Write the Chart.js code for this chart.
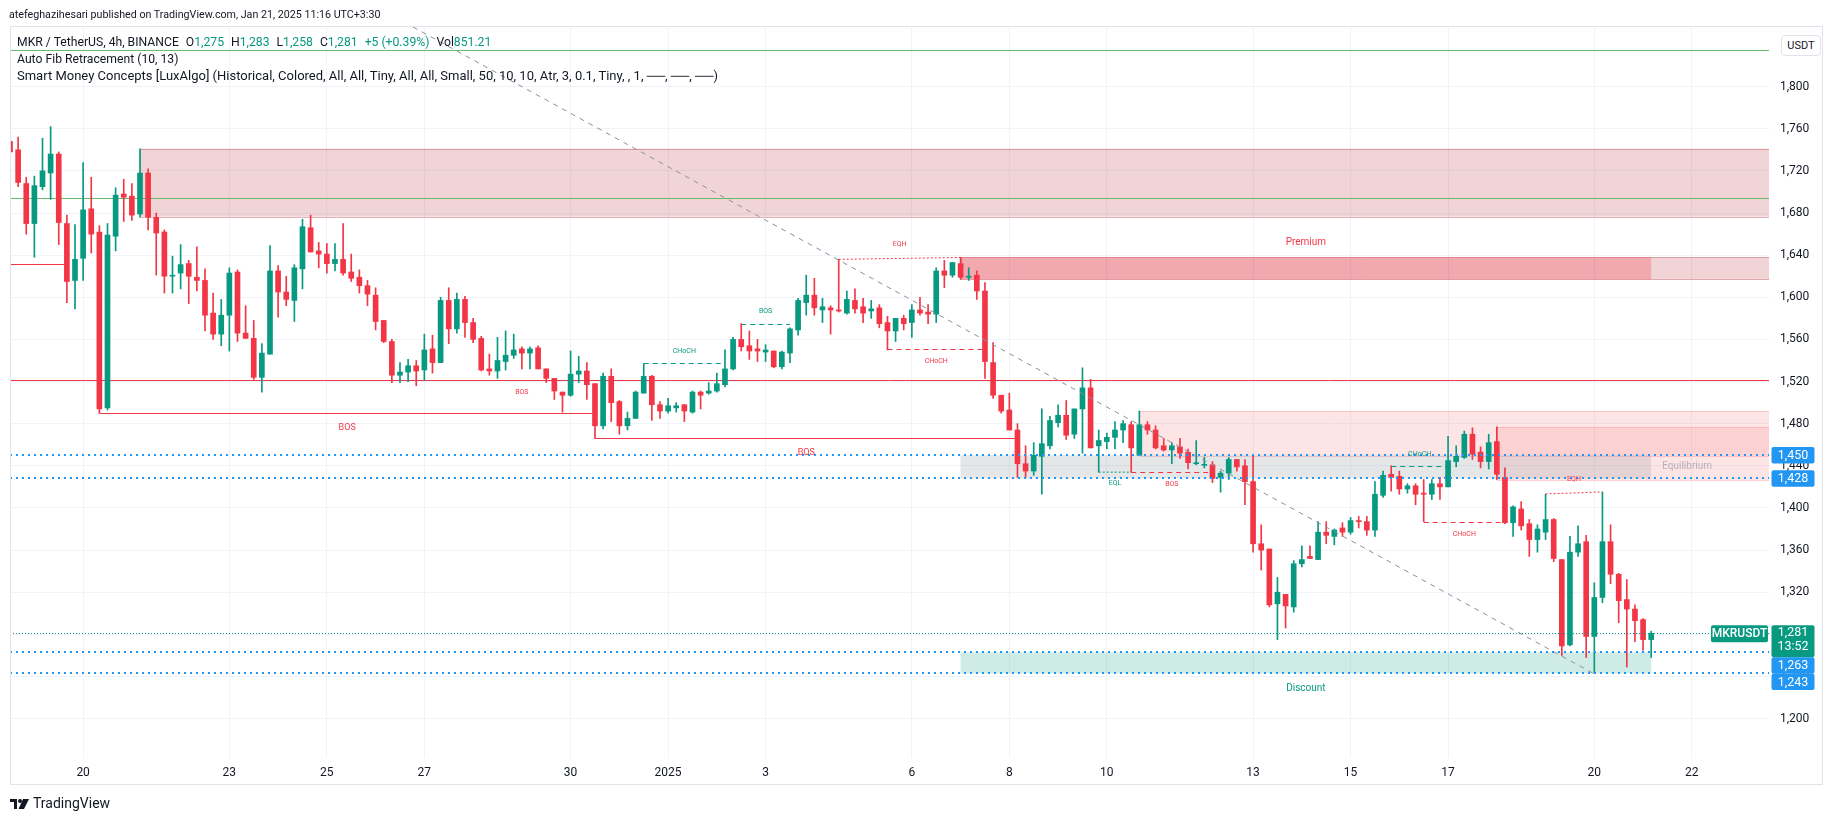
<!DOCTYPE html>
<html>
<head>
<meta charset="utf-8">
<title>MKR / TetherUS 4h</title>
<script src="https://cdn.jsdelivr.net/npm/chart.js@4.4.1/dist/chart.umd.min.js"></script>
<style>
  html, body { margin: 0; padding: 0; background: #fff; }
  #wrap { position: relative; width: 1835px; height: 821px; font-family: Roboto, "Noto Sans", sans-serif; color: #131722; }
  #chart { position: absolute; left: 0; top: 0; }
  .txt { position: absolute; white-space: nowrap; font-size: 12.2px; line-height: 15px; }
  .g { color: #089981; }
  .it { margin-left: 7px; }
  #frame { position: absolute; left: 10px; top: 26px; width: 1811px; height: 757px; border: 1px solid #e0e3eb; pointer-events: none; }
  #unit { position: absolute; left: 1781px; top: 35px; width: 38px; height: 19px; border: 1px solid #e0e3eb; border-radius: 4px;
          background: #fff; font-size: 11px; line-height: 19px; text-align: center; }
  #logo { position: absolute; left: 10px; top: 795px; font-size: 14px; line-height: 17px; white-space: nowrap; }
  #logo svg { vertical-align: -1px; margin-right: 4px; }
</style>
</head>
<body>
<div id="wrap">
  <canvas id="chart" width="1835" height="821"></canvas>
  <div id="frame"></div>
  <div class="txt" style="left:9px; top:8px; font-size:10.7px; line-height:14px;">atefeghazihesari published on TradingView.com, Jan 21, 2025 11:16 UTC+3:30</div>
  <div class="txt" style="left:17px; top:34.5px;">MKR / TetherUS, 4h, BINANCE<span class="it">O<span class="g">1,275</span></span><span class="it">H<span class="g">1,283</span></span><span class="it">L<span class="g">1,258</span></span><span class="it">C<span class="g">1,281</span></span><span class="it g">+5 (+0.39%)</span><span class="it">Vol<span class="g">851.21</span></span></div>
  <div class="txt" style="left:17px; top:51.5px;">Auto Fib Retracement (10, 13)</div>
  <div class="txt" style="left:17px; top:67.5px; font-size:13px;">Smart Money Concepts [LuxAlgo] (Historical, Colored, All, All, Tiny, All, All, Small, 50, 10, 10, Atr, 3, 0.1, Tiny, , 1, ──, ──, ──)</div>
  <div id="unit">USDT</div>
  <div id="logo"><svg width="19" height="10" viewBox="0 0 19 10"><path d="M0 0h7v10H4V3H0z" fill="#131722"/><circle cx="10" cy="2" r="2" fill="#131722"/><path d="M13 0h6l-5 10H8.5z" fill="#131722"/></svg>TradingView</div>
</div>

<script>
// 4h candles, bar 0 = Dec 20 00:00, first bar is 9 candles earlier
const FIRST_BAR = -9;

const opens = [
  1748, 1740, 1708, 1670, 1705, 1718, 1736, 1670, 1616,
  1637, 1684, 1662, 1495, 1658, 1698, 1696, 1679, 1718, 1676, 1662, 1620,
  1623, 1632, 1619, 1616, 1585, 1565, 1583, 1624, 1566, 1561, 1524, 1546,
  1625, 1605, 1597, 1627, 1666, 1644, 1641, 1632, 1636, 1624, 1619, 1611,
  1602, 1578, 1558, 1526, 1529, 1535, 1531, 1551, 1538, 1597, 1570, 1598,
  1576, 1561, 1532, 1530, 1539, 1545, 1551, 1547, 1552, 1532, 1523, 1510,
  1507, 1527, 1530, 1518, 1478, 1525, 1501, 1478, 1485, 1509, 1525, 1498,
  1492, 1495, 1498, 1491, 1510, 1509, 1511, 1517, 1532, 1560, 1554, 1551,
  1548, 1549, 1534, 1547, 1569, 1595, 1602, 1588, 1590, 1588, 1585, 1597,
  1591, 1587, 1590, 1576, 1568, 1580, 1576, 1588, 1586, 1584, 1625, 1621,
  1632, 1619, 1621, 1606, 1538, 1507, 1493, 1474, 1442, 1435, 1449, 1459,
  1481, 1488, 1470, 1494, 1514, 1459, 1463, 1467, 1474, 1479, 1450, 1479,
  1474, 1459, 1455, 1458, 1453, 1442, 1440.5, 1441, 1429, 1433, 1446, 1440,
  1425, 1366, 1361, 1309, 1318, 1306, 1347, 1354, 1351, 1377, 1373, 1381,
  1377, 1388, 1387, 1379, 1412, 1432, 1430, 1418, 1421, 1414, 1413, 1423,
  1420, 1444, 1448, 1470, 1453, 1444, 1463, 1429, 1386, 1399, 1385, 1370,
  1377, 1389, 1351, 1270, 1358, 1368, 1278, 1315, 1368, 1337, 1313, 1304,
  1294, 1275
];
const highs = [
  1753, 1752, 1714, 1715, 1751, 1762, 1738, 1678, 1669,
  1728, 1714, 1668, 1670, 1704, 1712, 1708, 1741, 1722, 1680, 1664, 1639,
  1650, 1635, 1648, 1627, 1604, 1598, 1628, 1626, 1592, 1578, 1556, 1649,
  1630, 1620, 1631, 1674, 1678, 1652, 1651, 1651, 1670, 1641, 1626, 1616,
  1609, 1578, 1560, 1538, 1541, 1540, 1565, 1564, 1600, 1609, 1604, 1601,
  1580, 1563, 1546, 1562, 1568, 1565, 1553, 1553, 1554, 1532, 1523, 1510,
  1549, 1544, 1538, 1518, 1528, 1532, 1502, 1491, 1511, 1537, 1526, 1501,
  1504, 1500, 1498, 1511, 1511, 1519, 1528, 1550, 1562, 1575, 1568, 1560,
  1555, 1549, 1549, 1571, 1599, 1621, 1618, 1599, 1592, 1636, 1606, 1608,
  1599, 1597, 1593, 1582, 1580, 1583, 1593, 1600, 1593, 1628, 1635, 1633,
  1638, 1628, 1625, 1614, 1557, 1507, 1509, 1480, 1459, 1462, 1494, 1487,
  1498, 1502, 1494, 1533, 1522, 1474, 1471, 1482, 1483, 1482, 1492, 1482,
  1478, 1466, 1462, 1466, 1456, 1464, 1448, 1444, 1435, 1448, 1446, 1446,
  1450, 1384, 1361, 1334, 1318, 1350, 1364, 1364, 1387, 1387, 1380, 1386,
  1391, 1392, 1392, 1425, 1435, 1440, 1435, 1423, 1423, 1427, 1427, 1429,
  1468, 1459, 1473, 1476, 1458, 1470, 1477, 1438, 1402, 1406, 1389, 1384,
  1413, 1390, 1351, 1373, 1383, 1374, 1329, 1415, 1384, 1338, 1332, 1308,
  1295, 1283
];
const lows = [
  1722, 1705, 1660, 1638, 1702, 1693, 1650, 1595, 1589,
  1616, 1642, 1490, 1493, 1644, 1672, 1673, 1676, 1664, 1621, 1604, 1604,
  1608, 1594, 1606, 1568, 1560, 1554, 1549, 1558, 1561, 1522, 1510, 1546,
  1581, 1592, 1577, 1608, 1643, 1628, 1623, 1625, 1621, 1615, 1604, 1592,
  1569, 1557, 1519, 1519, 1520, 1516, 1521, 1528, 1538, 1556, 1566, 1562,
  1557, 1530, 1526, 1523, 1531, 1542, 1532, 1532, 1532, 1519, 1503, 1491,
  1506, 1519, 1503, 1466, 1475, 1482, 1470, 1474, 1485, 1509, 1483, 1485,
  1490, 1491, 1482, 1490, 1494, 1508, 1510, 1515, 1531, 1549, 1541, 1539,
  1539, 1533, 1532, 1538, 1564, 1583, 1583, 1576, 1565, 1586, 1584, 1585,
  1576, 1580, 1571, 1550, 1558, 1569, 1562, 1583, 1575, 1576, 1609, 1619,
  1617, 1616, 1598, 1523, 1504, 1490, 1474, 1429, 1429, 1431, 1413, 1456,
  1477, 1465, 1466, 1452, 1457, 1434, 1456, 1456, 1462, 1434, 1450, 1470,
  1456, 1454, 1442, 1447, 1437, 1441, 1438, 1424, 1415, 1427, 1435, 1403,
  1358, 1341, 1306, 1275, 1286, 1301, 1344, 1352, 1351, 1366, 1365, 1373,
  1375, 1381, 1374, 1373, 1410, 1416, 1413, 1414, 1403, 1387, 1408, 1408,
  1420, 1439, 1447, 1446, 1438, 1437, 1427, 1385, 1373, 1379, 1354, 1358,
  1370, 1349, 1260, 1269, 1354, 1258, 1243, 1310, 1328, 1291, 1249, 1273,
  1265, 1258
];
const closes = [
  1738, 1709, 1670, 1706, 1720, 1736, 1671, 1615, 1636,
  1683, 1660, 1494, 1659, 1697, 1695, 1678, 1718, 1676, 1661, 1620, 1621,
  1631, 1620, 1616, 1583, 1565, 1583, 1623, 1566, 1561, 1524, 1547, 1625,
  1605, 1598, 1628, 1667, 1643, 1641, 1632, 1636, 1623, 1618, 1611, 1603,
  1577, 1558, 1526, 1529, 1535, 1530, 1550, 1538, 1597, 1570, 1598, 1576,
  1560, 1531, 1530, 1540, 1545, 1550, 1547, 1551, 1532, 1523, 1511, 1507,
  1527, 1530, 1517, 1478, 1525, 1500, 1478, 1485, 1510, 1525, 1498, 1492,
  1497, 1497, 1492, 1510, 1507, 1511, 1518, 1532, 1560, 1553, 1549, 1549,
  1550, 1534, 1548, 1570, 1597, 1602, 1590, 1591, 1588, 1587, 1598, 1589,
  1585, 1589, 1575, 1568, 1580, 1575, 1588, 1585, 1584, 1625, 1621, 1633,
  1619, 1620, 1606, 1539, 1507, 1492, 1474, 1442, 1435, 1450, 1461, 1483,
  1488, 1469, 1494, 1514, 1457, 1464, 1467, 1474, 1480, 1457, 1479, 1474,
  1457, 1455, 1459, 1452, 1443, 1442.5, 1441, 1428, 1433, 1446, 1439, 1425,
  1366, 1360, 1308, 1320, 1307, 1347, 1351, 1352, 1377, 1374, 1379, 1377,
  1388, 1387, 1379, 1413, 1431, 1429, 1418, 1421, 1413, 1413, 1423, 1420,
  1445, 1449, 1470, 1451, 1444, 1462, 1432, 1386, 1401, 1383, 1370, 1380,
  1389, 1352, 1269, 1358, 1366, 1278, 1315, 1368, 1337, 1312, 1304, 1293,
  1275, 1281
];

// date axis (bar positions of the labelled days)
const dayTickBars = [0, 18, 30, 42, 60, 72, 84, 102, 114, 126, 144, 156, 168, 186, 198];
const dayLabels = ['20', '23', '25', '27', '30', '2025', '3', '6', '8', '10', '13', '15', '17', '20', '22'];
const priceTicks = [1200, 1240, 1280, 1320, 1360, 1400, 1440, 1480, 1520, 1560, 1600, 1640, 1680, 1720, 1760, 1800];

// Smart Money Concepts drawings: [fromBar, toBar, top, bottom]
const swingOrderBlocks = [[7, 'end', 1741, 1676.5], [108, 'end', 1638, 1617]];
const internalOrderBlocks = [[130, 'end', 1492, 1449.5], [174, 'end', 1476.5, 1426.5]];
const premiumZone = [108, 193, 1638, 1617];
const equilibriumZone = [108, 193, 1450, 1428];
const discountZone = [108, 193, 1263, 1243];

// structure breaks: [fromBar, toBar, price, label, side]
const swingBreaks = [[2, 63, 1490, 'BOS', 'bear'], [63, 115, 1466.3, 'BOS', 'bear']];
const internalBreaks = [
  [39, 69, 1521, 'BOS', 'bear'],
  [69, 79, 1537.5, 'CHoCH', 'bull'],
  [81, 87, 1575, 'BOS', 'bull'],
  [99, 111, 1551, 'CHoCH', 'bear'],
  [129, 139, 1434, 'BOS', 'bear'],
  [161, 168, 1439.8, 'CHoCH', 'bull'],
  [165, 175, 1386.4, 'CHoCH', 'bear']
];
// equal highs / lows: [fromBar, toBar, price1, price2, label, side]
const equalLevels = [
  [93, 108, 1636, 1637.8, 'EQH', 'bear'],
  [125, 129, 1434, 1434, 'EQL', 'bull'],
  [180, 187, 1413.3, 1415.2, 'EQH', 'bear']
];
// horizontal levels: [fromBar, toBar, price]
const fibLevels = [[FIRST_BAR, 'end', 1834.7], [FIRST_BAR, 'end', 1694]];
const strongLevels = [[FIRST_BAR, 'end', 1521], [FIRST_BAR, -2.2, 1631.6]];
const rangeLevels = [1450, 1428, 1263, 1243];
const trendLine = [[40.6, 1856.6], [186, 1242.4]];
const lastPrice = 1281;
const countdown = '13:52';

const UP = '#089981';
const DOWN = '#f23645';

const barX = opens.map((o, i) => FIRST_BAR + i);
const candleColor = opens.map((o, i) => closes[i] >= o ? UP : DOWN);
const fmt = v => v.toLocaleString('en-US');

const overlay = {
  id: 'smcOverlay',
  beforeDatasetsDraw(chart) {
    const { ctx, chartArea: a, scales: { x, y } } = chart;
    const px = v => x.getPixelForValue(v === 'end' ? x.max : v);
    const box = (z, fill, stroke) => {
      const x0 = px(z[0]), x1 = px(z[1]), y0 = y.getPixelForValue(z[2]), y1 = y.getPixelForValue(z[3]);
      ctx.fillStyle = fill;
      ctx.fillRect(x0, y0, x1 - x0, y1 - y0);
      if (stroke) {
        ctx.strokeStyle = stroke; ctx.lineWidth = 1;
        ctx.beginPath();
        ctx.moveTo(x0, Math.round(y0) + 0.5); ctx.lineTo(x1, Math.round(y0) + 0.5);
        ctx.moveTo(x0, Math.round(y1) + 0.5); ctx.lineTo(x1, Math.round(y1) + 0.5);
        ctx.moveTo(Math.round(x0) + 0.5, y0); ctx.lineTo(Math.round(x0) + 0.5, y1);
        ctx.stroke();
      }
    };
    const hline = (x0, x1, p, color, dash, w) => {
      const yy = Math.round(y.getPixelForValue(p)) + 0.5;
      ctx.strokeStyle = color; ctx.lineWidth = w || 1; ctx.setLineDash(dash || []);
      ctx.beginPath(); ctx.moveTo(x0, yy); ctx.lineTo(x1, yy); ctx.stroke();
      ctx.setLineDash([]);
    };
    ctx.save();
    ctx.beginPath(); ctx.rect(a.left, a.top, a.width, a.height); ctx.clip();

    swingOrderBlocks.forEach(z => box(z, 'rgba(178,40,51,0.2)', 'rgba(178,40,51,0.35)'));
    box(premiumZone, 'rgba(242,54,69,0.28)');
    internalOrderBlocks.forEach(z => box(z, 'rgba(247,124,128,0.2)', 'rgba(247,124,128,0.35)'));
    box(equilibriumZone, 'rgba(135,139,148,0.22)');
    box(discountZone, 'rgba(8,153,129,0.2)');

    fibLevels.forEach(l => hline(px(l[0]), px(l[1]), l[2], '#66bb6a'));
    strongLevels.forEach(l => hline(px(l[0]), px(l[1]), l[2], DOWN));

    swingBreaks.forEach(b => hline(px(b[0]), px(b[1]), b[2], b[4] === 'bull' ? UP : DOWN));
    internalBreaks.forEach(b => hline(px(b[0]), px(b[1]), b[2], b[4] === 'bull' ? UP : DOWN, [5, 4]));

    equalLevels.forEach(e => {
      ctx.strokeStyle = e[5] === 'bull' ? UP : DOWN; ctx.lineWidth = 1; ctx.setLineDash([2, 2]);
      ctx.beginPath();
      ctx.moveTo(px(e[0]), y.getPixelForValue(e[2]));
      ctx.lineTo(px(e[1]), y.getPixelForValue(e[3]));
      ctx.stroke();
      ctx.setLineDash([]);
    });
    ctx.restore();
  },
  afterDatasetsDraw(chart) {
    const { ctx, chartArea: a, scales: { x, y } } = chart;
    const px = v => x.getPixelForValue(v === 'end' ? x.max : v);
    const label = (t, xx, yy, color, size, align) => {
      ctx.font = size + 'px Roboto, sans-serif';
      ctx.fillStyle = color; ctx.textAlign = align || 'center'; ctx.textBaseline = 'middle';
      ctx.fillText(t, xx, yy);
    };
    ctx.save();
    ctx.beginPath(); ctx.rect(a.left, a.top, a.width, a.height); ctx.clip();

    // auto fib trend line
    ctx.strokeStyle = '#8c8f99'; ctx.lineWidth = 1; ctx.setLineDash([5, 5]);
    ctx.beginPath();
    ctx.moveTo(px(trendLine[0][0]), y.getPixelForValue(trendLine[0][1]));
    ctx.lineTo(px(trendLine[1][0]), y.getPixelForValue(trendLine[1][1]));
    ctx.stroke();

    // range levels (blue dotted) and last price line
    ctx.strokeStyle = '#2196f3'; ctx.lineWidth = 2; ctx.setLineDash([2, 4]);
    rangeLevels.forEach(p => {
      const yy = Math.round(y.getPixelForValue(p));
      ctx.beginPath(); ctx.moveTo(a.left, yy); ctx.lineTo(a.right, yy); ctx.stroke();
    });
    ctx.strokeStyle = UP; ctx.lineWidth = 1; ctx.setLineDash([1, 2]);
    const ly = Math.round(y.getPixelForValue(lastPrice)) + 0.5;
    ctx.beginPath(); ctx.moveTo(a.left, ly); ctx.lineTo(a.right, ly); ctx.stroke();
    ctx.setLineDash([]);

    // structure labels
    swingBreaks.forEach(b => {
      const up = b[4] === 'bull';
      label(b[3], px((b[0] + b[1]) / 2), y.getPixelForValue(b[2]) + (up ? -15 : 15), up ? UP : DOWN, 9);
    });
    internalBreaks.forEach(b => {
      const up = b[4] === 'bull';
      label(b[3], px((b[0] + b[1]) / 2), y.getPixelForValue(b[2]) + (up ? -12 : 12), up ? UP : DOWN, 7);
    });
    equalLevels.forEach(e => {
      const up = e[5] === 'bull';
      const yy = y.getPixelForValue((e[2] + e[3]) / 2);
      label(e[4], px((e[0] + e[1]) / 2), yy + (up ? 11 : -14), up ? UP : DOWN, 7);
    });
    label('Premium', px((premiumZone[0] + premiumZone[1]) / 2), y.getPixelForValue(premiumZone[2]) - 15, DOWN, 10);
    label('Discount', px((discountZone[0] + discountZone[1]) / 2), y.getPixelForValue(discountZone[3]) + 15, UP, 10);
    label('Equilibrium', px(equilibriumZone[1]) + 11, y.getPixelForValue((equilibriumZone[2] + equilibriumZone[3]) / 2), 'rgba(135,139,148,0.6)', 10, 'left');
    ctx.restore();
  },
  afterDraw(chart) {
    const { ctx, chartArea: a, scales: { y } } = chart;
    const bx = a.right + 2.5, bw = 43, bh = 16.4;
    const rect = (x0, y0, w, h, color) => {
      ctx.fillStyle = color;
      ctx.beginPath(); ctx.roundRect(x0, y0, w, h, 2); ctx.fill();
    };
    const text = (t, xx, yy, size, weight) => {
      ctx.font = (weight || '') + ' ' + size + 'px Roboto, sans-serif';
      ctx.fillStyle = '#fff'; ctx.textAlign = 'center'; ctx.textBaseline = 'middle';
      ctx.fillText(t, xx, yy);
    };
    ctx.save();
    // last price label + countdown
    const ly = y.getPixelForValue(lastPrice);
    rect(a.right - 58, ly - 8, 57, 17, UP);
    text('MKRUSDT', a.right - 29.5, ly + 0.5, 12, '500');
    const top = ly - 8;
    const gh = 32;
    rect(bx, top, bw, gh, UP);
    text(fmt(lastPrice), bx + bw / 2, top + 8, 12.5);
    text(countdown, bx + bw / 2, top + 22, 12.5);
    // range badges, pushed apart where they collide
    let prevBottom = -Infinity;
    rangeLevels.slice().sort((p, q) => q - p).forEach(p => {
      let t = y.getPixelForValue(p) - bh / 2;
      if (t < top + gh && t + bh > top) t = top + gh;
      if (t < prevBottom) t = prevBottom;
      rect(bx, t, bw, bh, '#2196f3');
      text(fmt(p), bx + bw / 2, t + bh / 2 + 0.5, 12.5);
      prevBottom = t + bh;
    });
    ctx.restore();
  }
};

new Chart(document.getElementById('chart'), {
  type: 'bar',
  data: {
    datasets: [
      {
        label: 'wick',
        data: barX.map((b, i) => ({ x: b, y: [lows[i], highs[i]] })),
        backgroundColor: candleColor,
        barThickness: 1,
        grouped: false,
        order: 2
      },
      {
        label: 'body',
        data: barX.map((b, i) => ({ x: b, y: [opens[i], closes[i]] })),
        backgroundColor: candleColor,
        barThickness: 5,
        minBarLength: 1,
        grouped: false,
        order: 1
      }
    ]
  },
  options: {
    responsive: false,
    animation: false,
    events: [],
    layout: { padding: { left: 10, right: 12, top: 27, bottom: 36 } },
    plugins: { legend: { display: false }, tooltip: { enabled: false } },
    scales: {
      x: {
        type: 'linear',
        min: FIRST_BAR,
        max: 207.5,
        offset: false,
        border: { display: false },
        grid: { color: '#f0f3fa', drawTicks: false, offset: false },
        afterBuildTicks: s => { s.ticks = dayTickBars.map(v => ({ value: v })); },
        afterFit: s => { s.height = 27; },
        ticks: {
          autoSkip: false, maxRotation: 0, padding: 8,
          color: '#131722', font: { family: 'Roboto', size: 12 },
          callback: v => dayLabels[dayTickBars.indexOf(v)]
        }
      },
      y: {
        position: 'right',
        min: 1162.6,
        max: 1856.6,
        border: { display: false },
        grid: { color: '#f0f3fa', drawTicks: false },
        afterBuildTicks: s => { s.ticks = priceTicks.map(v => ({ value: v })); },
        afterFit: s => { s.width = 54; },
        ticks: {
          padding: 11,
          color: '#131722', font: { family: 'Roboto', size: 12 },
          callback: v => fmt(v)
        }
      }
    }
  },
  plugins: [overlay]
});
</script>
</body>
</html>
